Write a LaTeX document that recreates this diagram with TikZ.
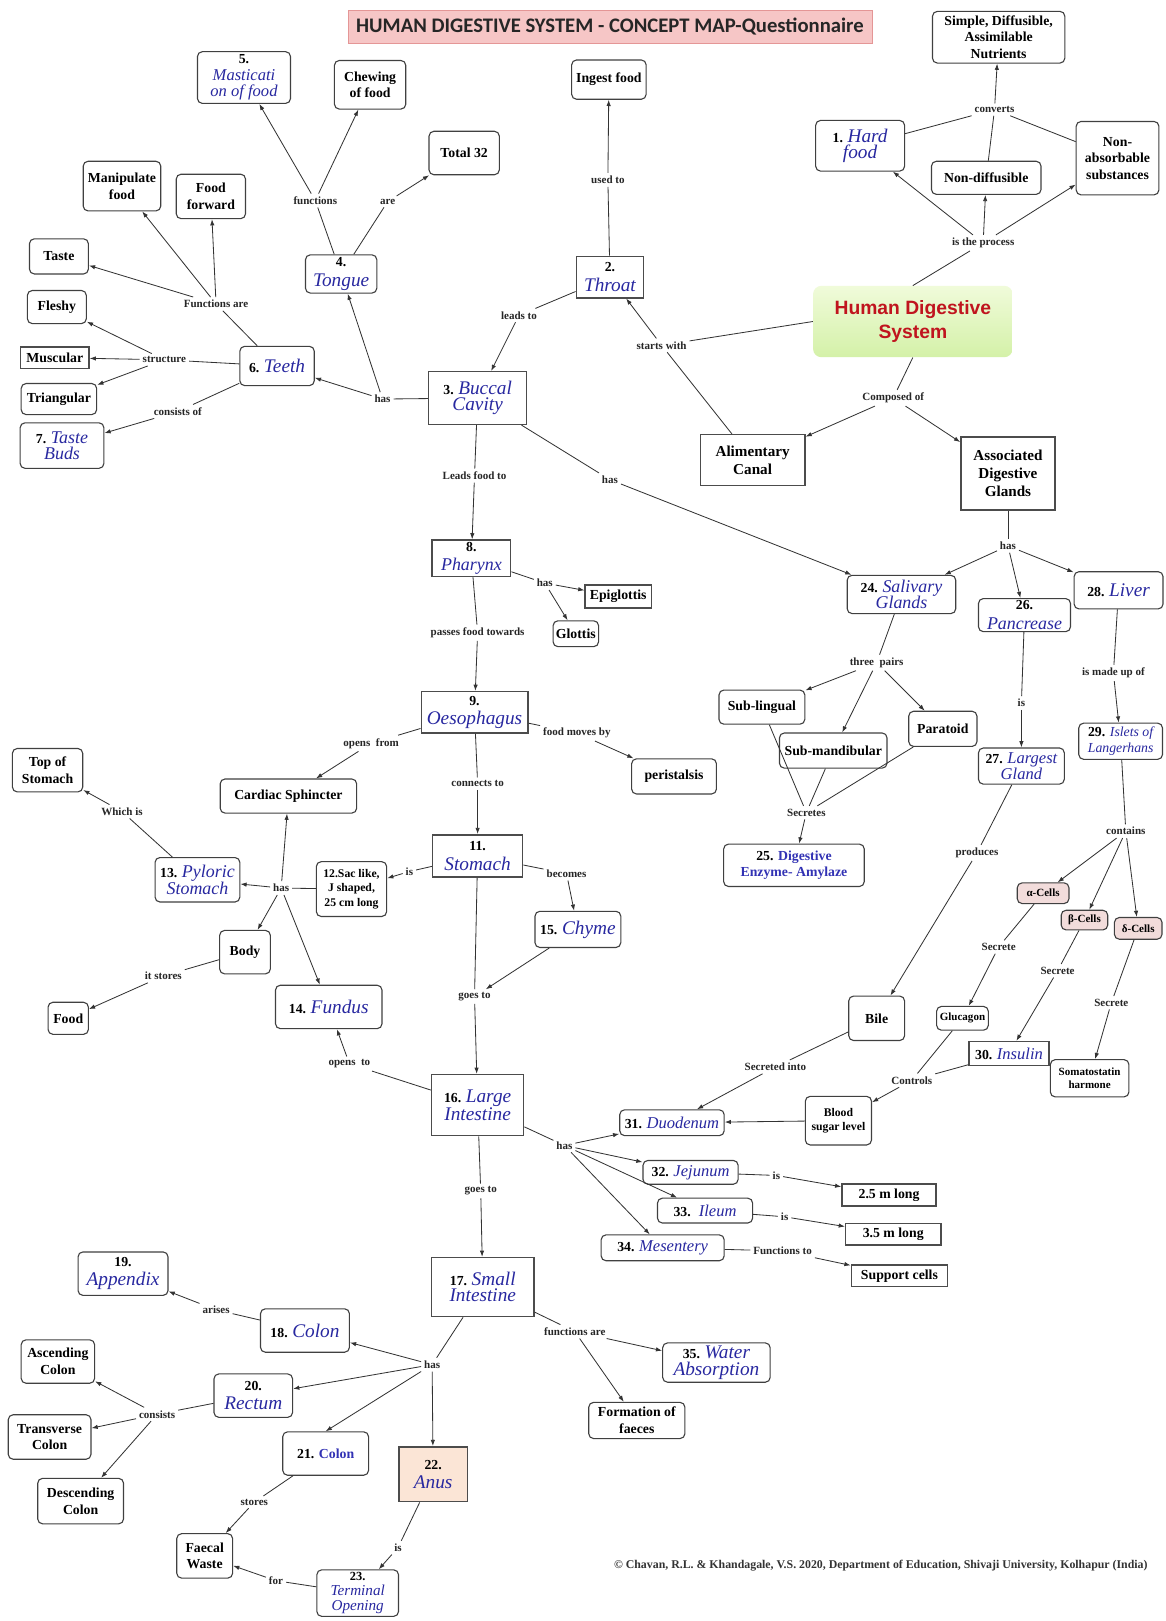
\documentclass[tikz,border=0pt]{standalone}
\usepackage{fontspec}
\setmainfont{Liberation Serif}
\newfontfamily\sansbold{Liberation Sans}
\newfontfamily\titlefnt{Carlito}
\usetikzlibrary{arrows.meta}
\definecolor{hwblue}{RGB}{40,40,160}
\definecolor{cellpink}{RGB}{242,220,219}
\definecolor{anusfill}{RGB}{251,229,214}
\definecolor{titlefill}{RGB}{246,198,198}
\definecolor{titledraw}{RGB}{228,150,150}
\definecolor{hdsred}{RGB}{192,20,30}
\definecolor{hdstop}{RGB}{240,251,218}
\definecolor{hdsbot}{RGB}{212,241,168}
\definecolor{prblue}{RGB}{50,50,180}
\newcommand\hw[2][14]{{\fontsize{#1}{#1}\selectfont\mdseries\itshape\color{hwblue}#2}}
\tikzset{
  box/.style={draw=black!75, line width=0.8pt, rounded corners=3.5pt, fill=white, align=center, inner sep=1pt, font=\fontsize{10}{12}\selectfont\bfseries},
  rbox/.style={box, rounded corners=0pt, line width=1.1pt, draw=black!70},
  hb/.style={font=\fontsize{10}{14}\selectfont\bfseries, inner sep=0.5pt},
  cell/.style={box, fill=cellpink, font=\fontsize{8}{9}\selectfont\bfseries},
  lab/.style={font=\fontsize{8}{9}\selectfont\bfseries, inner sep=2pt, text=black!85},
  sz/.style 2 args={minimum width=#1*0.75pt, minimum height=#2*0.75pt},
  arr/.style={draw=black!80, line width=0.6pt, -{Latex[length=4.5pt,width=3.2pt]}},
  ln/.style={draw=black!80, line width=0.6pt},
  titlebox/.style={draw=titledraw, fill=titlefill, inner sep=2pt, text=black!85, font=\titlefnt\bfseries\fontsize{15}{16}\selectfont},
  hdsnode/.style={rounded corners=6pt, top color=hdstop, bottom color=hdsbot, draw=none, text=hdsred, align=center, font=\sansbold\bfseries\fontsize{14}{18}\selectfont},
}
\begin{document}
\begin{tikzpicture}[x=0.75pt,y=-0.75pt]
\useasboundingbox (0,0) rectangle (1127,1568);
\fill[white] (0,0) rectangle (1127,1568);

% ---------- title and centre
\node[titlebox, sz={507}{32}] (title) at (590,26) {HUMAN DIGESTIVE SYSTEM - CONCEPT MAP-Questionnaire};
\node[hdsnode, sz={193}{69}] (hds) at (883,311) {Human Digestive\\System};

% ---------- top right
\node[box, sz={128}{50}] (simple) at (966,36) {Simple, Diffusible,\\Assimilable\\Nutrients};
\node[box, sz={86}{49}] (n1) at (832,141) {1. \hw{Hard}\\\hw{food}};
\node[box, sz={106}{32}] (nondiff) at (954,172) {Non-diffusible};
\node[box, sz={80}{71}] (nonabs) at (1081,153) {Non-\\absorbable\\substances};
\node[lab] (conv) at (962,106) {converts};
\node[lab] (proc) at (951,235) {is the process};

% ---------- top centre / left
\node[box, sz={72}{38}] (ingest) at (589,77) {Ingest food};
\node[lab] (usedto) at (588,174) {used to};
\node[rbox, hb, sz={65}{40}] (throat) at (590,268) {2.\\\hw{Throat}};
\node[lab] (startswith) at (640,334) {starts with};
\node[lab] (leadsto) at (502,305) {leads to};
\node[rbox, sz={95}{51}] (buccal) at (462,385) {3. \hw{Buccal}\\\hw{Cavity}};
\node[lab] (has1) at (370,386) {has};
\node[box, hb, sz={69}{37}] (tongue) at (330,265) {4.\\\hw{Tongue}};
\node[box, sz={90}{50}] (mast) at (236,75) {5.\\\hw[12]{Masticati}\\\hw[12]{on of food}};
\node[box, sz={69}{47}] (chewing) at (358,82) {Chewing\\of food};
\node[box, sz={68}{42}] (total) at (449,148) {Total 32};
\node[lab] (functions) at (305,194) {functions};
\node[lab] (are) at (375,195) {are};
\node[box, sz={75}{48}] (manip) at (118,180) {Manipulate\\food};
\node[box, sz={67}{43}] (foodfwd) at (204,190) {Food\\forward};
\node[box, sz={57}{34}] (taste) at (57,248) {Taste};
\node[box, sz={57}{32}] (fleshy) at (55,297) {Fleshy};
\node[rbox, sz={66}{21}] (muscular) at (53,346) {Muscular};
\node[box, sz={73}{30}] (triang) at (57,386) {Triangular};
\node[box, sz={81}{44}] (tastebuds) at (60,431) {7. \hw[13]{Taste}\\\hw[13]{Buds}};
\node[box, sz={72}{38}] (teeth) at (268,354) {6. \hw{Teeth}};
\node[lab] (fnare) at (209,294) {Functions are};
\node[lab] (structure) at (159,348) {structure};
\node[lab] (consistsof) at (172,398) {consists of};

% ---------- central column
\node[lab] (leadsfood) at (459,460) {Leads food to};
\node[lab] (has2) at (590,464) {has};
\node[rbox, hb, sz={76}{35}] (pharynx) at (456,540) {8.\\\hw[13]{Pharynx}};
\node[lab] (has3) at (527,564) {has};
\node[rbox, sz={64}{22}] (epiglottis) at (598,577) {Epiglottis};
\node[box, sz={44}{25}] (glottis) at (557,613) {Glottis};
\node[lab] (passes) at (462,612) {passes food towards};
\node[rbox, hb, sz={103}{40}] (oesoph) at (459,689) {9.\\\hw{Oesophagus}};
\node[lab] (foodmoves) at (558,709) {food moves by};
\node[box, sz={82}{34}] (peristalsis) at (652,751) {peristalsis};
\node[lab] (opensfrom) at (359,719) {opens \ from};
\node[box, sz={132}{33}] (cardiac) at (279,770) {Cardiac Sphincter};
\node[lab] (connects) at (462,758) {connects to};
\node[box, sz={68}{42}] (topstomach) at (46,745) {Top of\\Stomach};
\node[lab] (whichis) at (118,785) {Which is};
\node[rbox, hb, sz={87}{41}] (stomach) at (462,828) {11.\\\hw{Stomach}};
\node[lab] (is1) at (396,843) {is};
\node[box, sz={68}{53}, font=\fontsize{8.5}{10.5}\selectfont\bfseries] (sac) at (340,860) {12.Sac like,\\J shaped,\\25 cm long};
\node[lab] (has4) at (272,859) {has};
\node[box, sz={82}{43}] (pyloric) at (191,851) {13. \hw[13]{Pyloric}\\\hw[13]{Stomach}};
\node[box, sz={49}{42}] (body) at (237,921) {Body};
\node[lab] (itstores) at (158,944) {it stores};
\node[box, sz={39}{31}] (food) at (66,985) {Food};
\node[box, sz={103}{42}] (fundus) at (318,974) {14. \hw{Fundus}};
\node[lab] (becomes) at (548,845) {becomes};
\node[box, sz={83}{35}] (chyme) at (559,899) {15. \hw{Chyme}};
\node[lab] (goesto1) at (459,964) {goes to};
\node[lab] (opensto) at (338,1029) {opens \ to};
\node[rbox, sz={89}{59}] (largeint) at (462,1069) {16. \hw{Large}\\\hw{Intestine}};
\node[lab] (has5) at (546,1108) {has};
\node[box, sz={101}{25}] (duod) at (650,1086) {31. \hw[12]{Duodenum}};
\node[box, sz={92}{23}] (jej) at (668,1134) {32. \hw[12]{Jejunum}};
\node[box, sz={92}{24}] (ileum) at (682,1171) {33. \ \hw[12]{Ileum}};
\node[box, sz={119}{25}] (mesent) at (641,1207) {34. \hw[12]{Mesentery}};
\node[lab] (is2) at (751,1137) {is};
\node[lab] (is3) at (759,1177) {is};
\node[lab] (fnto) at (757,1210) {Functions to};
\node[rbox, sz={91}{21}] (m25) at (860,1156) {2.5 m long};
\node[rbox, sz={92}{21}] (m35) at (864,1194) {3.5 m long};
\node[rbox, sz={93}{21}] (support) at (870,1234) {Support cells};
\node[lab] (goesto2) at (465,1152) {goes to};
\node[rbox, sz={99}{57}] (smallint) at (467,1245) {17. \hw{Small}\\\hw{Intestine}};
\node[lab] (fnsare) at (556,1288) {functions are};
\node[box, sz={104}{38}] (water) at (693,1318) {35. \hw{Water}\\\hw{Absorption}};
\node[box, sz={93}{35}] (formation) at (616,1374) {Formation of\\faeces};

% ---------- bottom left
\node[lab] (has6) at (418,1320) {has};
\node[box, hb, sz={87}{42}] (appendix) at (119,1232) {19.\\\hw{Appendix}};
\node[lab] (arises) at (209,1267) {arises};
\node[box, sz={86}{42}] (colon18) at (295,1287) {18. \hw{Colon}};
\node[box, sz={71}{42}] (ascending) at (56,1317) {Ascending\\Colon};
\node[lab] (consists) at (152,1368) {consists};
\node[box, hb, sz={76}{42}] (rectum) at (245,1350) {20.\\\hw{Rectum}};
\node[box, sz={80}{43}] (transverse) at (48,1390) {Transverse\\Colon};
\node[box, sz={83}{42}] (colon21) at (315,1406) {21. {\color{prblue}Colon}};
\node[rbox, hb, sz={66}{53}, fill=anusfill] (anus) at (419,1426) {22.\\\hw{Anus}};
\node[box, sz={83}{44}] (descending) at (78,1452) {Descending\\Colon};
\node[lab] (stores) at (246,1453) {stores};
\node[box, sz={54}{43}] (faecal) at (198,1505) {Faecal\\Waste};
\node[lab] (is4) at (385,1497) {is};
\node[box, sz={79}{45}, font=\fontsize{9}{11}\selectfont\bfseries] (terminal) at (346,1541) {23.\\\hw[11]{Terminal}\\\hw[11]{Opening}};
\node[lab] (for) at (267,1529) {for};

% ---------- right side
\node[rbox, sz={101}{49}, font=\fontsize{11}{13}\selectfont\bfseries] (alim) at (728,445) {Alimentary\\Canal};
\node[lab] (composed) at (864,385) {Composed of};
\node[rbox, sz={91}{71}, font=\fontsize{11}{13}\selectfont\bfseries] (assoc) at (975,458) {Associated\\Digestive\\Glands};
\node[lab] (has7) at (975,528) {has};
\node[box, sz={105}{37}] (salivary) at (872,575) {24. \hw[13]{Salivary}\\\hw[13]{Glands}};
\node[box, hb, sz={89}{32}] (pancrease) at (991,595) {26.\\\hw[13]{Pancrease}};
\node[box, sz={86}{36}] (liver) at (1082,571) {28. \hw{Liver}};
\node[lab] (threepairs) at (848,641) {three \ pairs};
\node[box, sz={83}{33}] (sublingual) at (737,684) {Sub-lingual};
\node[box, sz={104}{34}] (submand) at (806,726) {Sub-mandibular};
\node[box, sz={66}{34}] (paratoid) at (912,705) {Paratoid};
\node[lab] (secretes) at (780,786) {Secretes};
\node[box, sz={136}{41}] (amylase) at (768,837) {25. {\color{prblue}Digestive}\\{\color{prblue}Enzyme- Amylaze}};
\node[lab] (is5) at (988,680) {is};
\node[box, sz={83}{35}] (exocrine) at (988,741) {27. \hw[12]{Largest}\\\hw[12]{Gland}};
\node[lab] (madeup) at (1077,651) {is made up of};
\node[box, sz={81}{35}] (islets) at (1084,717) {29. \hw[10]{Islets of}\\\hw[10]{Langerhans}};
\node[lab] (contains) at (1089,804) {contains};
\node[lab] (produces) at (945,825) {produces};
\node[cell, sz={50}{20}] (alpha) at (1009,864) {α-Cells};
\node[cell, sz={45}{19}] (beta) at (1049,890) {β-Cells};
\node[cell, sz={46}{21}] (delta) at (1101,898) {δ-Cells};
\node[lab] (sec1) at (966,916) {Secrete};
\node[lab] (sec2) at (1023,939) {Secrete};
\node[lab] (sec3) at (1075,970) {Secrete};
\node[box, sz={54}{43}] (bile) at (848,985) {Bile};
\node[box, sz={50}{23}, font=\fontsize{8}{9}\selectfont\bfseries] (glucagon) at (931,985) {Glucagon};
\node[rbox, sz={77}{23}] (insulin) at (976,1019) {30. \hw[12]{Insulin}};
\node[box, sz={76}{36}, font=\fontsize{8}{10}\selectfont\bfseries] (somato) at (1054,1043) {Somatostatin\\harmone};
\node[lab] (secreted) at (750,1032) {Secreted into};
\node[lab] (controls) at (882,1045) {Controls};
\node[box, sz={64}{47}, font=\fontsize{8.5}{10.5}\selectfont\bfseries] (blood) at (811,1084) {Blood\\sugar level};

\node[font=\fontsize{8.6}{10}\selectfont\bfseries, text=black!80] (copy) at (852,1514) {© Chavan, R.L. \& Khandagale, V.S. 2020, Department of Education, Shivaji University, Kolhapur (India)};

% ---------- connectors
\draw[ln] (n1) -- (conv);
\draw[ln] (nondiff) -- (conv);
\draw[ln] (nonabs) -- (conv);
\draw[arr] (conv) -- (simple);
\draw[ln] (hds.north) -- (proc);
\draw[arr] (proc) -- (n1);
\draw[arr] (proc) -- (nondiff);
\draw[arr] (proc) -- (nonabs);
\draw[ln] (throat) -- (usedto);
\draw[arr] (usedto) -- (ingest);
\draw[ln] (hds.west) -- (startswith);
\draw[ln] (alim) -- (startswith);
\draw[arr] (startswith) -- (throat);
\draw[ln] (throat) -- (leadsto);
\draw[arr] (leadsto) -- (buccal);
\draw[ln] (buccal) -- (has1);
\draw[arr] (has1) -- (teeth);
\draw[arr] (has1) -- (tongue);
\draw[ln] (tongue) -- (functions);
\draw[arr] (functions) -- (mast);
\draw[arr] (functions) -- (chewing);
\draw[ln] (tongue) -- (are);
\draw[arr] (are) -- (total);
\draw[ln] (teeth) -- (fnare);
\draw[arr] (fnare) -- (taste);
\draw[arr] (fnare) -- (manip);
\draw[arr] (fnare) -- (foodfwd);
\draw[ln] (teeth) -- (structure);
\draw[arr] (structure) -- (fleshy);
\draw[arr] (structure) -- (muscular);
\draw[arr] (structure) -- (triang);
\draw[ln] (teeth) -- (consistsof);
\draw[arr] (consistsof) -- (tastebuds);
\draw[ln] (buccal) -- (leadsfood);
\draw[arr] (leadsfood) -- (pharynx);
\draw[ln] (buccal) -- (has2);
\draw[arr] (has2) -- (salivary);
\draw[ln] (pharynx) -- (has3);
\draw[arr] (has3) -- (epiglottis);
\draw[arr] (has3) -- (glottis);
\draw[ln] (pharynx) -- (passes);
\draw[arr] (passes) -- (oesoph);
\draw[ln] (oesoph) -- (opensfrom);
\draw[arr] (opensfrom) -- (cardiac);
\draw[ln] (oesoph) -- (foodmoves);
\draw[arr] (foodmoves) -- (peristalsis);
\draw[ln] (oesoph) -- (connects);
\draw[arr] (connects) -- (stomach);
\draw[ln] (stomach) -- (is1);
\draw[arr] (is1) -- (sac);
\draw[ln] (sac) -- (has4);
\draw[arr] (has4) -- (pyloric);
\draw[arr] (has4) -- (cardiac);
\draw[arr] (has4) -- (body);
\draw[arr] (has4) -- (fundus);
\draw[ln] (pyloric) -- (whichis);
\draw[arr] (whichis) -- (topstomach);
\draw[ln] (body) -- (itstores);
\draw[arr] (itstores) -- (food);
\draw[ln] (stomach) -- (becomes);
\draw[arr] (becomes) -- (chyme);
\draw[ln] (stomach) -- (goesto1);
\draw[arr] (chyme) -- (goesto1);
\draw[arr] (goesto1) -- (largeint);
\draw[ln] (largeint) -- (opensto);
\draw[arr] (opensto) -- (fundus);
\draw[ln] (largeint) -- (has5);
\draw[arr] (has5) -- (duod);
\draw[arr] (has5) -- (jej);
\draw[arr] (has5) -- (ileum);
\draw[arr] (has5) -- (mesent);
\draw[ln] (jej) -- (is2);
\draw[arr] (is2) -- (m25);
\draw[ln] (ileum) -- (is3);
\draw[arr] (is3) -- (m35);
\draw[ln] (mesent) -- (fnto);
\draw[arr] (fnto) -- (support);
\draw[ln] (largeint) -- (goesto2);
\draw[arr] (goesto2) -- (smallint);
\draw[ln] (smallint) -- (fnsare);
\draw[arr] (fnsare) -- (water);
\draw[arr] (fnsare) -- (formation);
\draw[ln] (smallint) -- (has6);
\draw[arr] (has6) -- (colon18);
\draw[arr] (has6) -- (rectum);
\draw[arr] (has6) -- (colon21.north);
\draw[arr] (has6) -- (anus);
\draw[ln] (colon18) -- (arises);
\draw[arr] (arises) -- (appendix);
\draw[ln] (rectum) -- (consists);
\draw[arr] (consists) -- (ascending);
\draw[arr] (consists) -- (transverse);
\draw[arr] (consists) -- (descending);
\draw[ln] (colon21) -- (stores);
\draw[arr] (stores) -- (faecal);
\draw[ln] (anus) -- (is4);
\draw[arr] (is4) -- (terminal);
\draw[ln] (terminal) -- (for);
\draw[arr] (for) -- (faecal);
\draw[ln] (hds.south) -- (composed);
\draw[arr] (composed) -- (alim);
\draw[arr] (composed) -- (assoc);
\draw[ln] (assoc) -- (has7);
\draw[arr] (has7) -- (salivary);
\draw[arr] (has7) -- (pancrease);
\draw[arr] (has7) -- (liver);
\draw[ln] (salivary) -- (threepairs);
\draw[arr] (threepairs) -- (sublingual);
\draw[arr] (threepairs) -- (submand);
\draw[arr] (threepairs) -- (paratoid);
\draw[ln] (sublingual) -- (secretes);
\draw[ln] (submand) -- (secretes);
\draw[ln] (paratoid) -- (secretes);
\draw[arr] (secretes) -- (amylase);
\draw[ln] (pancrease) -- (is5);
\draw[arr] (is5) -- (exocrine);
\draw[ln] (exocrine) -- (produces);
\draw[arr] (produces) -- (bile);
\draw[ln] (bile) -- (secreted);
\draw[arr] (secreted) -- (duod);
\draw[ln] (liver) -- (madeup);
\draw[arr] (madeup) -- (islets);
\draw[ln] (islets) -- (contains);
\draw[arr] (contains) -- (alpha);
\draw[arr] (contains) -- (beta);
\draw[arr] (contains) -- (delta);
\draw[ln] (alpha) -- (sec1);
\draw[arr] (sec1) -- (glucagon);
\draw[ln] (beta) -- (sec2);
\draw[arr] (sec2) -- (insulin);
\draw[ln] (delta) -- (sec3);
\draw[arr] (sec3) -- (somato);
\draw[ln] (glucagon) -- (controls);
\draw[ln] (insulin) -- (controls);
\draw[arr] (controls) -- (blood);
\draw[arr] (blood) -- (duod);
\end{tikzpicture}
\end{document}
